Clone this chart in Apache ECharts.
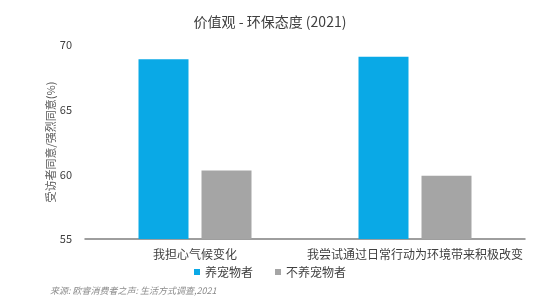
<!DOCTYPE html>
<html>
<head>
<meta charset="utf-8">
<script src="https://cdn.jsdelivr.net/npm/echarts@6/dist/echarts.min.js"></script>
<style>html,body{margin:0;padding:0;background:#fff;}#c{width:540px;height:301px;}</style>
</head>
<body>
<div id="c"></div>
<script>
const categories = ['我担心气候变化', '我尝试通过日常行动为环境带来积极改变'];
const seriesNames = ['养宠物者', '不养宠物者'];
const petOwners = [68.9, 69.1];
const nonPetOwners = [60.3, 59.9];
const yTicks = [55, 60, 65, 70];

const chart = echarts.init(document.getElementById('c'), null, {renderer: 'canvas'});
const font = '"Noto Sans CJK SC", "Noto Sans", sans-serif';
chart.setOption({
  animation: false,
  title: {
    text: '价值观 - 环保态度 (2021)',
    left: 'center', top: 10,
    textStyle: {fontFamily: font, fontSize: 14, fontWeight: 'normal', color: '#404040'}
  },
  legend: {
    data: seriesNames,
    top: 261, left: 'center',
    itemWidth: 6, itemHeight: 6, itemGap: 22,
    icon: 'rect',
    textStyle: {fontFamily: font, fontSize: 12, color: '#404040'}
  },
  grid: {left: 85, right: 15, top: 45, bottom: 62},
  xAxis: {
    type: 'category',
    data: categories,
    axisLine: {lineStyle: {color: '#7f7f7f', width: 1.5}},
    axisTick: {show: false},
    axisLabel: {fontFamily: font, fontSize: 12, color: '#404040', margin: 9, interval: 0}
  },
  yAxis: {
    type: 'value',
    min: yTicks[0], max: yTicks[yTicks.length - 1], interval: 5,
    name: '受访者同意/强烈同意(%)',
    nameLocation: 'middle', nameRotate: 90, nameGap: 29,
    nameMoveOverlap: false,
    nameTextStyle: {fontFamily: font, fontSize: 11, color: '#595959'},
    axisLine: {show: false},
    axisTick: {show: false},
    splitLine: {show: false},
    axisLabel: {fontFamily: font, fontSize: 11, color: '#404040', margin: 13}
  },
  series: [
    {name: seriesNames[0], type: 'bar', data: petOwners, barWidth: 50, barGap: '26%',
     itemStyle: {color: '#0AA9E6'}},
    {name: seriesNames[1], type: 'bar', data: nonPetOwners, barWidth: 50,
     itemStyle: {color: '#A5A5A5'}}
  ],
  graphic: [{
    type: 'text', left: 50, top: 286,
    style: {text: '来源: 欧睿消费者之声: 生活方式调查,2021', fontFamily: font, fontSize: 9,
            fontStyle: 'italic', fill: '#8c8c8c'}
  }]
});
</script>
</body>
</html>
